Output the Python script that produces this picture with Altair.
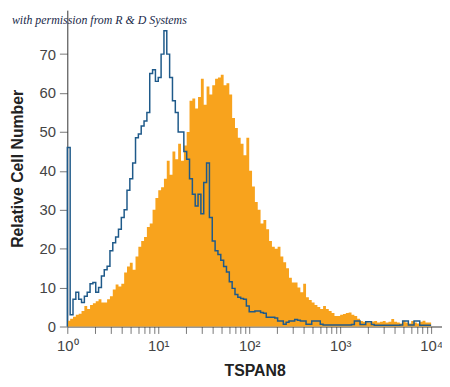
import altair as alt
import pandas as pd

BINS_PER_DECADE = 32

# counts per channel bin (32 bins per decade, 10^0 .. 10^4)
tspan8_counts = [
    1.5, 2, 2.5, 3, 3.3, 4, 5.3, 4.5, 5.5, 6, 6.5, 7, 6.2, 6.2, 7, 7.8,
    9.5, 10.8, 10.3, 11, 13.9, 15.4, 16.4, 14.6, 18, 20.5, 22, 23, 25.6, 26.5, 30, 33,
    35, 35.8, 38, 42.6, 39, 45, 43, 47, 42.6, 46.5, 50, 58, 58.6, 56, 59, 63.7,
    57, 61.7, 59.6, 62, 63.7, 64, 64.7, 62, 62.5, 59.6, 53.6, 51, 48.5, 47, 44, 48.5,
    40, 36, 32, 30, 26.5, 27.4, 25, 22, 20.5, 20, 20.5, 18, 16.5, 15, 12.5, 11.3,
    11.3, 10, 8.8, 11, 7.5, 6.8, 6.2, 5.5, 5, 4.5, 5.3, 4.5, 4, 3.5, 2.7, 2.7,
    3, 3.2, 3.5, 3.6, 3, 2.7, 2, 1.4, 1.2, 1.1, 1, 1.3, 1.4, 1, 1.2, 1.4,
    1, 1.2, 1.9, 1.2, 1, 0.8, 1.5, 1, 0.8, 1.4, 1, 0.8, 1.2, 1.5, 1, 1,
]
isotype_counts = [
    46, 3, 7, 8.8, 7, 6.2, 7.8, 8.8, 11, 11.3, 8.8, 10, 13, 14.6, 15.5, 19.5,
    21.5, 23, 25, 28, 30, 35, 38, 42, 48.5, 49.5, 51.5, 52.8, 55, 65, 66, 63,
    64, 70, 76, 70, 64, 58, 55, 50, 50, 45, 43, 38, 34, 31, 34, 29,
    37, 42, 28, 22, 19.5, 18.5, 17, 15.4, 14, 11.5, 9.8, 8.2, 7.5, 7.2, 7, 5.3,
    3.8, 3.8, 4, 4, 3.6, 3.4, 2.4, 2.4, 2.4, 2.2, 1.4, 1.4, 0.6, 1.1, 1.4, 1.4,
    1.8, 1.6, 1.4, 1.4, 0.6, 0.6, 1.4, 1.4, 1.4, 0.6, 0.4, 0.4, 0.4, 0.4, 0.4, 0.4,
    0.4, 0.4, 0.4, 0.4, 0.5, 1.4, 1.4, 0.5, 0.5, 1.2, 1.2, 0.5, 0.3, 0.3, 0.3, 0.3,
    0.3, 0.3, 0.3, 0.3, 0.3, 0.4, 1.4, 1.4, 0.4, 0.4, 1.4, 1.4, 0.3, 0.3, 0.3, 0.3,
]
y_ticks = [0, 10, 20, 30, 40, 50, 60, 70]
x_major = [1, 10, 100, 1000, 10000]
x_labels = ["10\u2070", "10\u00b9", "10\u00b2", "10\u00b3", "10\u2074"]
annotation = "with permission from R & D Systems"

n = len(tspan8_counts)
edges = [10 ** (i / BINS_PER_DECADE) for i in range(n + 1)]

area = pd.DataFrame({"x": edges, "y": tspan8_counts + [tspan8_counts[-1]]})

line_x = [edges[0]] + edges[:-1] + [edges[-1]]
line_y = [0] + isotype_counts + [isotype_counts[-1]]
line = pd.DataFrame({"x": line_x, "y": line_y, "idx": list(range(len(line_x)))})

x_tick_values = []
for d in x_major[:-1]:
    x_tick_values += [d * k for k in range(1, 10)]
x_tick_values.append(x_major[-1])

label_expr = " : ".join(
    f"datum.value == {v} ? '{t}'" for v, t in zip(x_major, x_labels)
) + " : ''"

xscale = alt.Scale(type="log", domain=[1, 13180], nice=False)
yscale = alt.Scale(domain=[0, 81.3], nice=False)

FONT = "Liberation Sans, Arial, sans-serif"

xaxis = alt.Axis(
    title="TSPAN8", values=x_tick_values, labelExpr=label_expr, grid=False,
    tickSize=7, labelFontSize=15, labelPadding=5, titleFontSize=16, titleFontWeight="bold",
    titlePadding=10, domainColor="#333", tickColor="#777", labelColor="#444", titleColor="#222",
    labelFlush=False, labelOverlap=False,
)
yaxis = alt.Axis(
    title="Relative Cell Number", values=y_ticks, grid=False, tickSize=8,
    labelFontSize=15, labelPadding=4, titleFontSize=16, titleFontWeight="bold",
    titlePadding=14, domainColor="#333", tickColor="#777", labelColor="#444", titleColor="#222",
)

orange = alt.Chart(area).mark_area(interpolate="step-after", color="#F8A31D").encode(
    x=alt.X("x:Q", scale=xscale, axis=xaxis),
    y=alt.Y("y:Q", scale=yscale, axis=yaxis),
)

blue = alt.Chart(line).mark_line(interpolate="step-after", color="#1F5A8A", strokeWidth=1.5).encode(
    x=alt.X("x:Q", scale=xscale),
    y=alt.Y("y:Q", scale=yscale),
    order="idx:Q",
)

note = alt.Chart(pd.DataFrame({"t": [annotation]})).mark_text(
    align="left", baseline="middle", font="Liberation Serif", fontStyle="italic",
    fontSize=12, color="#1a2a4a",
).encode(text="t:N", x=alt.value(-56), y=alt.value(10))

chart = alt.layer(orange, blue, note).properties(
    width=379, height=320,
    autosize=alt.AutoSizeParams(type="none"),
    padding={"left": 60, "top": 0, "right": 0, "bottom": 59},
).configure_view(stroke=None).configure_axis(labelFont=FONT, titleFont=FONT)

chart.save("out.html", embed_options={"renderer": "svg", "actions": False})
